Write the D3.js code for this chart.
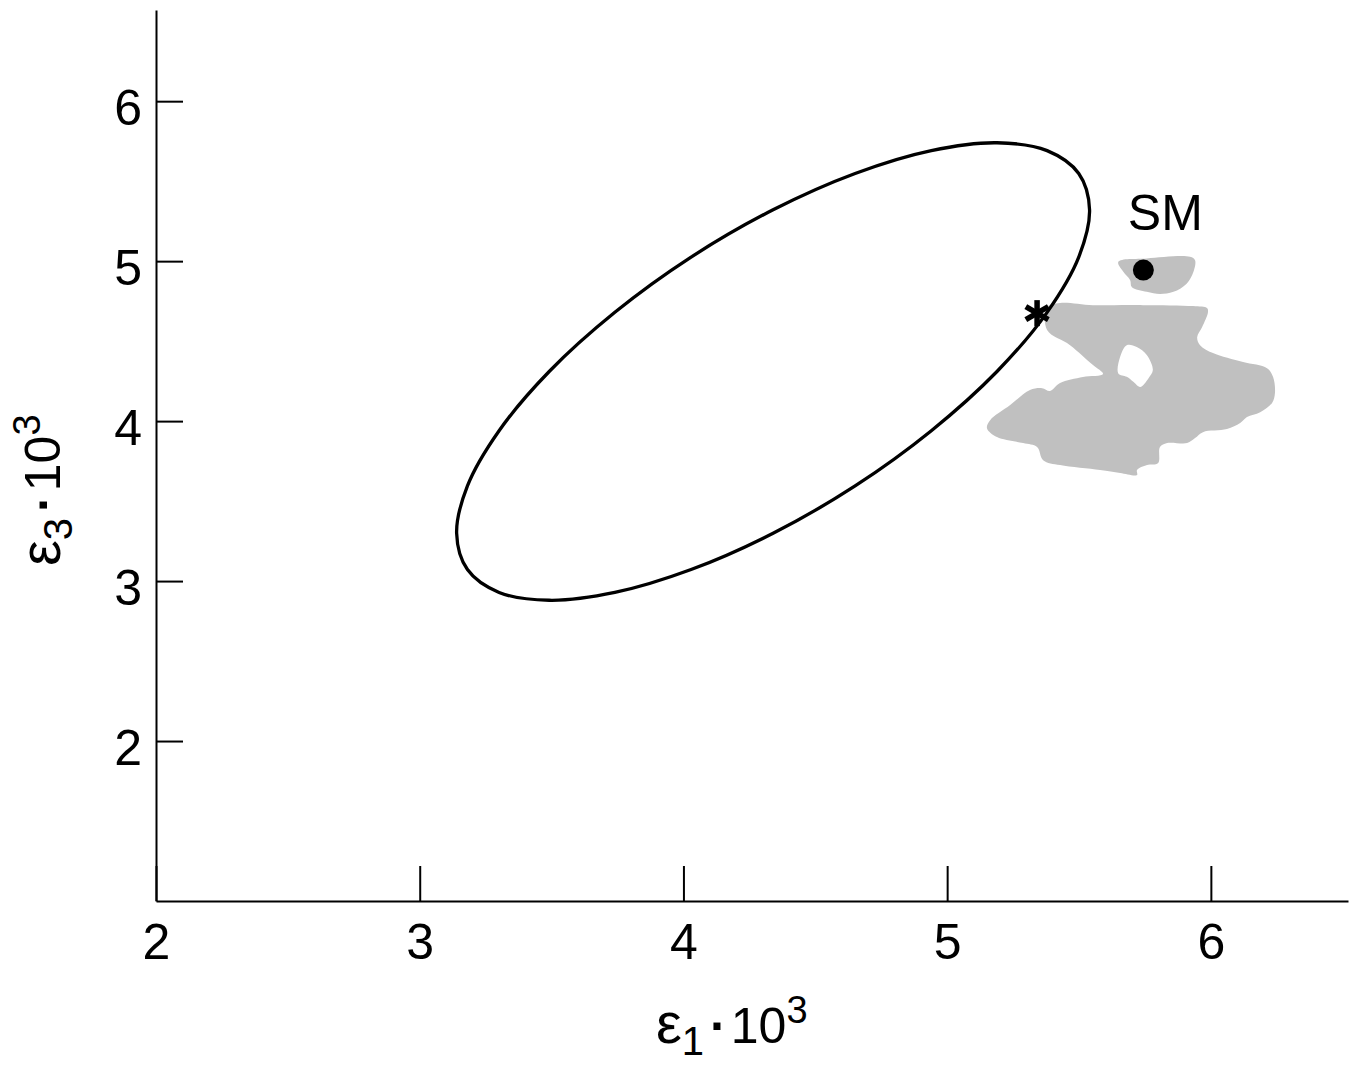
<!DOCTYPE html>
<html><head><meta charset="utf-8">
<script src="https://cdn.jsdelivr.net/npm/d3@7"></script>
<style>body{margin:0;background:#fff}</style>
</head><body>
<svg id="c" width="1359" height="1067"></svg>
<script>
// ---- data ----
const xTicks = [2, 3, 4, 5, 6];
const yTicks = [2, 3, 4, 5, 6];
const xDomain = [2, 6.52];
const yDomain = [1, 6.57];

// closed contour (ε1, ε3)
const contourX = [5.540, 5.499, 5.379, 5.189, 4.940, 4.651, 4.340, 4.029, 3.740, 3.491, 3.301, 3.181, 3.140, 3.181, 3.301, 3.491, 3.740, 4.029, 4.340, 4.651, 4.940, 5.189, 5.379, 5.499];
const contourY = [5.321, 5.548, 5.691, 5.740, 5.691, 5.548, 5.321, 5.025, 4.680, 4.310, 3.940, 3.595, 3.299, 3.072, 2.929, 2.880, 2.929, 3.072, 3.299, 3.595, 3.940, 4.310, 4.680, 5.025];

// grey allowed region (outer boundary + hole)
const regionOuter = [[5.379,4.713],[5.428,4.739],[5.553,4.725],[5.743,4.725],[5.933,4.719],[5.986,4.706],[5.989,4.681],[5.967,4.588],[5.948,4.525],[5.959,4.475],[6.008,4.425],[6.122,4.369],[6.213,4.331],[6.236,4.275],[6.243,4.175],[6.232,4.113],[6.187,4.056],[6.137,4.025],[6.111,3.988],[6.061,3.950],[5.970,3.931],[5.940,3.894],[5.910,3.863],[5.834,3.863],[5.807,3.838],[5.800,3.738],[5.758,3.725],[5.720,3.694],[5.720,3.663],[5.656,3.675],[5.580,3.694],[5.428,3.725],[5.364,3.756],[5.341,3.838],[5.288,3.863],[5.189,3.900],[5.151,3.956],[5.163,4.006],[5.239,4.100],[5.314,4.194],[5.360,4.206],[5.390,4.188],[5.428,4.238],[5.515,4.275],[5.591,4.294],[5.553,4.350],[5.466,4.475],[5.379,4.569]];
const regionHole = [[5.649,4.298],[5.656,4.402],[5.681,4.475],[5.719,4.464],[5.757,4.413],[5.780,4.319],[5.763,4.267],[5.732,4.214],[5.706,4.246],[5.681,4.277]];
const regionSmall = [[5.649,4.996],[5.757,5.017],[5.921,5.027],[5.940,5.006],[5.934,4.933],[5.909,4.861],[5.858,4.808],[5.807,4.794],[5.757,4.808],[5.700,4.839],[5.694,4.881],[5.668,4.933]];

const smPoint = [5.744, 4.944];
const smLabel = "SM";
const starPoint = [5.341, 4.675];

// ---- drawing ----
const font = "'Liberation Sans', Arial, Helvetica, sans-serif";
const svg = d3.select("#c");
const x = d3.scaleLinear().domain(xDomain).range([156, 1348]);
const y = d3.scaleLinear().domain(yDomain).range([901, 10]);

// grey region
const closedLine = d3.line().x(d => x(d[0])).y(d => y(d[1])).curve(d3.curveCatmullRomClosed.alpha(0.5));
svg.append("path")
  .attr("d", closedLine(regionOuter) + closedLine(regionHole))
  .attr("fill", "#c0c0c0").attr("fill-rule", "evenodd").attr("stroke", "none");
svg.append("path")
  .attr("d", closedLine(regionSmall))
  .attr("fill", "#c0c0c0").attr("stroke", "none");

// contour
const contourPts = contourX.map((v, i) => [v, contourY[i]]);
svg.append("path")
  .attr("d", closedLine(contourPts))
  .attr("fill", "none").attr("stroke", "#000").attr("stroke-width", 3.3);

// SM point
svg.append("circle").attr("cx", x(smPoint[0])).attr("cy", y(smPoint[1])).attr("r", 10.5).attr("fill", "#000");
svg.append("text").attr("x", x(smPoint[0]) + 22).attr("y", y(smPoint[1]) - 40)
  .attr("text-anchor", "middle").attr("font-family", font).attr("font-size", 50).text(smLabel);

// asterisk
const sx = x(starPoint[0]), sy = y(starPoint[1]);
const arm = 13;
const star = svg.append("g").attr("transform", `translate(${sx},${sy})`);
[90, 30, -30].forEach(a => {
  const r = a * Math.PI / 180;
  star.append("line")
    .attr("x1", -arm * Math.cos(r)).attr("y1", -arm * Math.sin(r))
    .attr("x2", arm * Math.cos(r)).attr("y2", arm * Math.sin(r))
    .attr("stroke", "#000").attr("stroke-width", 5.5);
});

// axes
const gx = svg.append("g").attr("transform", "translate(0,901)")
  .call(d3.axisBottom(x).tickValues(xTicks).tickFormat(d3.format("d")).tickSize(-35).tickSizeOuter(0).tickPadding(22));
const gy = svg.append("g").attr("transform", "translate(156,0)")
  .call(d3.axisLeft(y).tickValues(yTicks).tickFormat(d3.format("d")).tickSize(-27).tickSizeOuter(0).tickPadding(14));
[gx, gy].forEach(g => {
  g.selectAll("path,line").attr("stroke", "#000").attr("stroke-width", 2);
  g.selectAll("text").attr("font-size", 50).attr("font-family", font).attr("fill", "#000");
});
gy.selectAll("text").attr("dy", "0.46em");

// axis titles
function title(sel, sub) {
  sel.attr("font-family", font).attr("font-size", 50).attr("fill", "#000");
  sel.append("tspan").attr("font-size", 58).text("ε");
  sel.append("tspan").attr("dy", 12).attr("font-size", 40).text(sub);
  sel.append("tspan").attr("dy", -12).attr("dx", 6).attr("font-weight", "bold").text("·");
  sel.append("tspan").attr("dx", 4).text("10");
  sel.append("tspan").attr("dy", -20).attr("font-size", 38).text("3");
}
title(svg.append("text").attr("x", 656).attr("y", 1043), "1");
title(svg.append("text").attr("transform", "translate(60,566) rotate(-90)"), "3");
</script>
</body></html>
